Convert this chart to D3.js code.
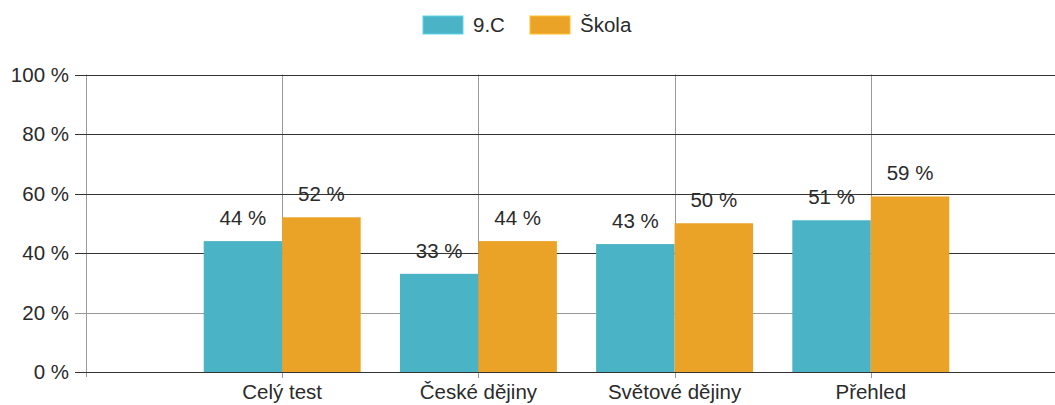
<!DOCTYPE html>
<meta charset="utf-8">
<title>9.C vs Škola</title>
<style>
body { margin: 0; background: #fff; }
svg text { font-family: "Liberation Sans", Arial, sans-serif; fill: #2a2a2a; }
</style>
<svg width="1055" height="405"></svg>
<script src="https://d3js.org/d3.v7.min.js"></script>
<script>
var categories = ["Celý test", "České dějiny", "Světové dějiny", "Přehled"];
var seriesNames = ["9.C", "Škola"];
var classValues = [44, 33, 43, 51];
var schoolValues = [52, 44, 50, 59];
var yTicks = [0, 20, 40, 60, 80, 100];
var colors = ["#4bb3c6", "#eaa326"];

var svg = d3.select("svg"),
    width = +svg.attr("width"),
    height = +svg.attr("height");

var plotLeft = 86, plotTop = 74.5, plotBottom = 372;
var fs = "20.5px";

// one empty slot on each side, like the original layout
var x = d3.scalePoint()
    .domain(d3.range(categories.length + 2))
    .range([plotLeft, 1067]);
var step = x.step();
var xs = d3.scaleBand()
    .domain(seriesNames)
    .range([-step * 0.4, step * 0.4]);

var y = d3.scaleLinear().domain([0, 100]).range([plotBottom, plotTop]);

var data = categories.map(function(c, i) {
  return { cat: c, i: i + 1, vals: [classValues[i], schoolValues[i]] };
});

function pairs(d) {
  return d.vals.map(function(v, k) { return { name: seriesNames[k], v: v, k: k }; });
}

// value labels (drawn first, grid lines pass over them like in the original)
svg.append("g").selectAll("g")
    .data(data)
    .enter().append("g")
      .attr("transform", function(d) { return "translate(" + x(d.i) + ",0)"; })
    .selectAll("text")
    .data(pairs)
    .enter().append("text")
      .attr("x", function(d) { return xs(d.name) + xs.bandwidth() / 2; })
      .attr("y", function(d) { return y(d.v) - 16; })
      .attr("text-anchor", "middle")
      .style("font-size", fs)
      .text(function(d) { return d.v + " %"; });

// vertical lines
svg.append("line")
    .attr("x1", plotLeft + 0.5).attr("x2", plotLeft + 0.5)
    .attr("y1", plotTop).attr("y2", plotBottom + 5)
    .attr("stroke", "#999");
svg.append("g").selectAll("line")
    .data(data)
    .enter().append("line")
      .attr("x1", function(d) { return Math.round(x(d.i)) + 0.5; })
      .attr("x2", function(d) { return Math.round(x(d.i)) + 0.5; })
      .attr("y1", plotTop).attr("y2", plotBottom + 6)
      .attr("stroke", "#999");

// horizontal grid lines + ticks
svg.append("g").selectAll("line")
    .data(yTicks)
    .enter().append("line")
      .attr("x1", plotLeft - 11).attr("x2", width)
      .attr("y1", function(d) { return Math.round(y(d)) + 0.5; })
      .attr("y2", function(d) { return Math.round(y(d)) + 0.5; })
      .attr("stroke", function(d) { return d === 20 ? "#999" : "#333"; });

// bars
svg.append("g").selectAll("g")
    .data(data)
    .enter().append("g")
      .attr("transform", function(d) { return "translate(" + x(d.i) + ",0)"; })
    .selectAll("rect")
    .data(pairs)
    .enter().append("rect")
      .attr("x", function(d) { return xs(d.name); })
      .attr("width", xs.bandwidth())
      .attr("y", function(d) { return y(d.v); })
      .attr("height", function(d) { return plotBottom - y(d.v); })
      .attr("fill", function(d) { return colors[d.k]; });

// base line stays on top of the bars
svg.append("line")
    .attr("x1", plotLeft - 11).attr("x2", width)
    .attr("y1", Math.round(y(0)) + 0.5).attr("y2", Math.round(y(0)) + 0.5)
    .attr("stroke", "#333");

svg.append("g").selectAll("text")
    .data(yTicks)
    .enter().append("text")
      .attr("x", 69)
      .attr("y", function(d) { return y(d); })
      .attr("dy", "0.36em")
      .attr("text-anchor", "end")
      .style("font-size", fs)
      .text(function(d) { return d + " %"; });

// category labels
svg.append("g").selectAll("text")
    .data(data)
    .enter().append("text")
      .attr("x", function(d) { return x(d.i); })
      .attr("y", 399)
      .attr("text-anchor", "middle")
      .style("font-size", fs)
      .text(function(d) { return d.cat; });

// legend
var legX = [423, 530];
var legend = svg.append("g").selectAll("g")
    .data(seriesNames)
    .enter().append("g")
      .attr("transform", function(d, k) { return "translate(" + legX[k] + ",16)"; });
legend.append("rect")
    .attr("width", 40).attr("height", 18)
    .attr("fill", function(d, k) { return colors[k]; })
    .attr("stroke", function(d, k) { return d3.color(colors[k]).brighter(0.5); });
legend.append("text")
    .attr("x", 50).attr("y", 9)
    .attr("dy", "0.36em")
    .style("font-size", fs)
    .text(function(d) { return d; });
</script>
